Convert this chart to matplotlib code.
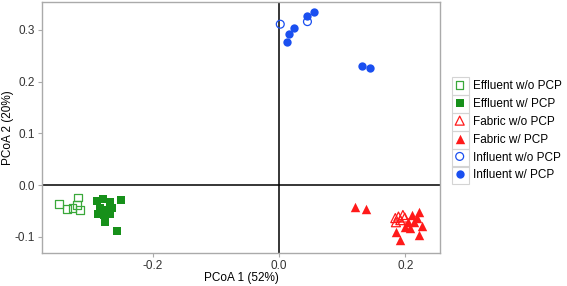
import matplotlib
matplotlib.use("Agg")
import matplotlib.pyplot as plt
from matplotlib.patches import Rectangle

plt.rcParams["font.family"] = ["Liberation Sans", "DejaVu Sans"]

# PCoA coordinates
eff_wo_x = [-0.348, -0.335, -0.318, -0.320, -0.315, -0.327]
eff_wo_y = [-0.037, -0.046, -0.024, -0.039, -0.048, -0.044]

eff_w_x = [-0.288, -0.279, -0.267, -0.250, -0.283, -0.272, -0.264,
           -0.286, -0.277, -0.267, -0.275, -0.256]
eff_w_y = [-0.031, -0.027, -0.033, -0.029, -0.045, -0.048, -0.045,
           -0.056, -0.058, -0.056, -0.072, -0.089]

fab_wo_x = [0.184, 0.189, 0.196, 0.199, 0.192, 0.185]
fab_wo_y = [-0.064, -0.061, -0.058, -0.063, -0.068, -0.072]

fab_w_x = [0.120, 0.137, 0.210, 0.222, 0.218, 0.213, 0.226, 0.199,
           0.207, 0.222, 0.192, 0.204, 0.185]
fab_w_y = [-0.042, -0.046, -0.058, -0.053, -0.063, -0.071, -0.079, -0.081,
           -0.084, -0.097, -0.106, -0.072, -0.091]

inf_wo_x = [0.002, 0.045]
inf_wo_y = [0.311, 0.316]

inf_w_x = [0.023, 0.016, 0.013, 0.045, 0.055, 0.131, 0.144]
inf_w_y = [0.303, 0.293, 0.276, 0.327, 0.334, 0.230, 0.226]

green = "#17901a"
green_light = "#3aa83a"
red = "#ff1a1a"
blue = "#1a4ff0"

fig = plt.figure(figsize=(5.67, 2.86), dpi=100)
ax = fig.add_axes([0.0746, 0.1154, 0.7014, 0.8786])

ax.axhline(0, color="black", lw=1.1, zorder=1)
ax.axvline(0, color="black", lw=1.1, zorder=1)

ax.scatter(eff_wo_x, eff_wo_y, marker="s", s=30, facecolors="none",
           edgecolors=green_light, linewidths=0.9, label="Effluent w/o PCP", zorder=3)
ax.scatter(eff_w_x, eff_w_y, marker="s", s=34, color=green,
           linewidths=0, label="Effluent w/ PCP", zorder=3)
ax.scatter(fab_wo_x, fab_wo_y, marker="^", s=42, facecolors="none",
           edgecolors=red, linewidths=0.9, label="Fabric w/o PCP", zorder=3)
ax.scatter(fab_w_x, fab_w_y, marker="^", s=46, color=red,
           linewidths=0, label="Fabric w/ PCP", zorder=3)
ax.scatter(inf_wo_x, inf_wo_y, marker="o", s=32, facecolors="none",
           edgecolors=blue, linewidths=0.9, label="Influent w/o PCP", zorder=3)
ax.scatter(inf_w_x, inf_w_y, marker="o", s=36, color=blue,
           linewidths=0, label="Influent w/ PCP", zorder=3)

ax.set_xlim(-0.3745, 0.2547)
ax.set_ylim(-0.1315, 0.3545)
ax.set_xticks([-0.2, 0.0, 0.2])
ax.set_yticks([-0.1, 0.0, 0.1, 0.2, 0.3])
ax.set_xticklabels(["-0.2", "0.0", "0.2"])
ax.set_yticklabels(["-0.1", "0.0", "0.1", "0.2", "0.3"])
ax.tick_params(labelsize=8.5, colors="#333333", length=3, width=0.8,
               pad=2)
ax.tick_params(axis="both", color="#aaaaaa")
for sp in ax.spines.values():
    sp.set_color("#aaaaaa")
    sp.set_linewidth(1.0)

ax.set_xlabel("PCoA 1 (52%)", fontsize=8.5, labelpad=0)
ax.set_ylabel("PCoA 2 (20%)", fontsize=8.5, labelpad=1)

leg = ax.legend(loc="center left", bbox_to_anchor=(0.792, 0.543),
                bbox_transform=fig.transFigure, frameon=False,
                fontsize=8.5, handlelength=1.0, handletextpad=0.6,
                labelspacing=0.5, borderaxespad=0, scatteryoffsets=[0.5])

# grey key boxes like ggplot, placed from the legend text positions
fig.canvas.draw()
renderer = fig.canvas.get_renderer()
for t in leg.get_texts():
    bb = t.get_window_extent(renderer)
    cx = bb.x0 - 12.5
    cy = (bb.y0 + bb.y1) / 2
    r = Rectangle((cx - 8.5, cy - 9), 17, 18, transform=None,
                  facecolor="none", edgecolor="#d4d4d4", lw=0.8)
    fig.add_artist(r)

fig.savefig("out.png", dpi=100)
